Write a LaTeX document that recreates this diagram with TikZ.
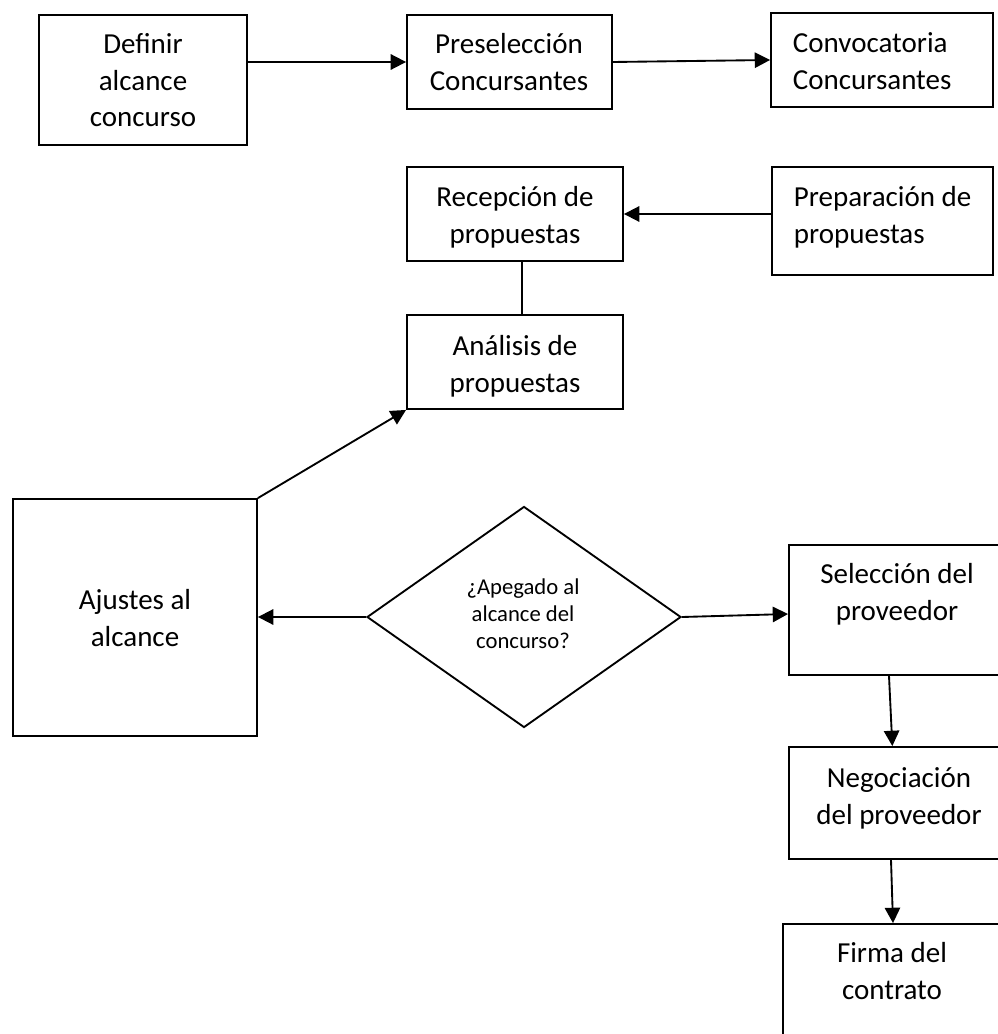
\documentclass[tikz,border=0pt]{standalone}
\usepackage{fontspec}
\setmainfont{Carlito}
\usetikzlibrary{arrows.meta,shapes.geometric}
\begin{document}
\begin{tikzpicture}[x=0.75pt,y=-0.75pt,
  line width=1.4pt,
  box/.style 2 args={draw, rectangle, inner sep=0pt,
    minimum width=#1*0.75pt, minimum height=#2*0.75pt},
  decision/.style 2 args={draw, diamond, inner sep=0pt,
    minimum width=#1*0.75pt, minimum height=#2*0.75pt},
  txt/.style={font=\fontsize{21.75pt}{27.4pt}\selectfont, align=center,
    inner sep=0pt, anchor=north},
  txtl/.style={txt, align=left, anchor=north west},
  qtxt/.style={font=\fontsize{17pt}{20.25pt}\selectfont, align=center,
    inner sep=0pt, anchor=north},
  arr/.style={-{Triangle[length=11.5pt,width=11.5pt]}}]

\useasboundingbox (0,0) rectangle (998,1034);
\clip (0,0) rectangle (998,1034);
\fill[white] (0,0) rectangle (998,1034);

% top row
\node[box={208}{130}] (def) at (143,80) {};
\node[txt] (defT) at (143,27.4) {\strut Definir\\alcance\\concurso};
\node[box={205}{94}] (pre) at (509.5,62) {};
\node[txt] (preT) at (509,27.4) {\strut Preselección\\Concursantes};
\node[box={222}{94}] (con) at (882,60) {};
\node[txtl] (conT) at (792,26.4) {\strut Convocatoria\\Concursantes};

% proposals
\node[box={216}{94}] (rec) at (515,214) {};
\node[txt] (recT) at (515,180.4) {\strut Recepción de\\propuestas};
\node[box={221}{108}] (prep) at (882.5,221) {};
\node[txtl] (prepT) at (793,180.4) {\strut Preparación de\\propuestas};
\node[box={216}{94}] (ana) at (515,362) {};
\node[txt] (anaT) at (515,329.4) {\strut Análisis de\\propuestas};

% decision row
\node[box={244}{237}] (aju) at (135,617.5) {};
\node[txt] (ajuT) at (135,583.4) {\strut Ajustes al\\alcance};
\node[decision={314}{221}] (dec) at (524,617) {};
\node[qtxt] (decT) at (523,575) {\strut ¿Apegado al\\alcance del\\concurso?};
\node[box={216}{130}] (sel) at (897,610) {};
\node[txt] (selT) at (897,557.4) {\strut Selección del\\proveedor};

% closing steps
\node[box={220}{112}] (neg) at (899,803) {};
\node[txt] (negT) at (899,761.4) {\strut Negociación\\del proveedor};
\node[box={220}{130}] (fir) at (893,989) {};
\node[txt] (firT) at (892,936.4) {\strut Firma del\\contrato};

% connectors
\draw[arr] (def.east |- pre.west) -- (pre.west);
\draw[arr] (pre.east) -- (con.west);
\draw[arr] (prep.west |- rec.east) -- (rec.east);
\draw ([xshift=5pt]rec.south) -- ([xshift=5pt]ana.north);
\draw[arr] (aju.north east) -- (ana.south west);
\draw[arr] (dec.west) -- (aju.east |- dec.west);
\draw[arr] (dec.east) -- ([yshift=-3pt]sel.west);
\draw[arr] ([xshift=-6pt]sel.south) -- ([xshift=-5pt]neg.north);
\draw[arr] ([xshift=-6pt]neg.south) -- ([xshift=0pt]fir.north);
\end{tikzpicture}
\end{document}
